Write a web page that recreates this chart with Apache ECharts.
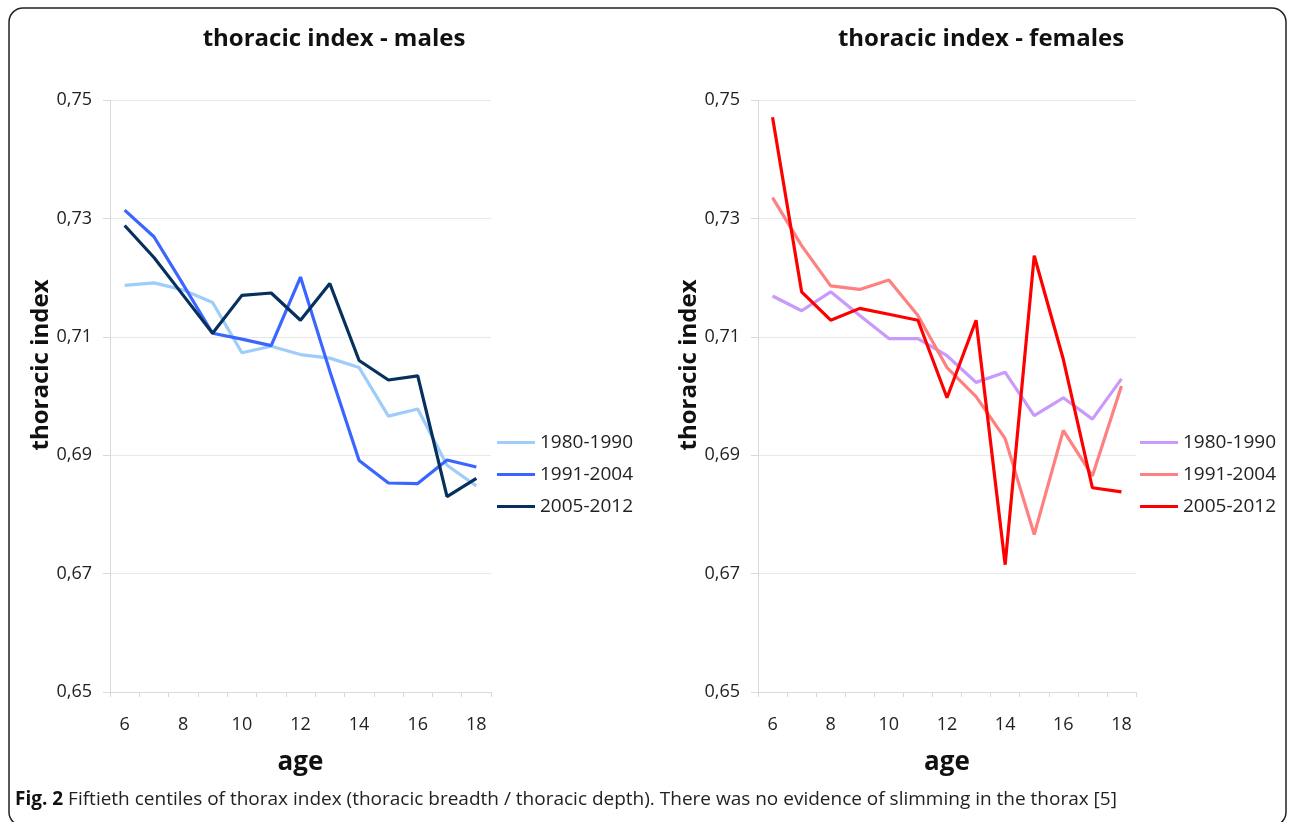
<!DOCTYPE html>
<html>
<head>
<meta charset="utf-8">
<script src="https://cdn.jsdelivr.net/npm/echarts@6/dist/echarts.min.js"></script>
<style>
  html, body { margin: 0; padding: 0; background: #fff; }
  #chart { width: 1292px; height: 822px; }
</style>
</head>
<body>
<div id="chart"></div>
<script>
// ages on the category axis
const edades = ['6','7','8','9','10','11','12','13','14','15','16','17','18'];
const periodos = ['1980-1990', '1991-2004', '2005-2012'];
const yTicks = [0.65, 0.67, 0.69, 0.71, 0.73, 0.75];

// 50th centiles, males
const hombres1980 = [0.7187, 0.7191, 0.7179, 0.7158, 0.7073, 0.7084, 0.7070, 0.7064, 0.7048, 0.6966, 0.6978, 0.6883, 0.6848];
const hombres1991 = [0.7314, 0.7269, 0.7188, 0.7106, 0.7096, 0.7085, 0.7201, 0.7042, 0.6891, 0.6853, 0.6852, 0.6892, 0.6880];
const hombres2005 = [0.7288, 0.7234, 0.7170, 0.7106, 0.7170, 0.7174, 0.7128, 0.7190, 0.7060, 0.7027, 0.7034, 0.6830, 0.6861];

// 50th centiles, females
const mujeres1980 = [0.7169, 0.7144, 0.7176, 0.7136, 0.7097, 0.7097, 0.7068, 0.7023, 0.7040, 0.6967, 0.6997, 0.6961, 0.7029];
const mujeres1991 = [0.7335, 0.7254, 0.7186, 0.7180, 0.7196, 0.7136, 0.7048, 0.6999, 0.6928, 0.6766, 0.6942, 0.6865, 0.7017];
const mujeres2005 = [0.7471, 0.7176, 0.7128, 0.7148, 0.7138, 0.7128, 0.6997, 0.7128, 0.6715, 0.7237, 0.7062, 0.6845, 0.6838];

const coloresH = ['#9dcdf8', '#3a66ff', '#06305e'];
const coloresM = ['#c999fb', '#ff8080', '#ff0000'];

const fuente = '"Open Sans", "Noto Sans", sans-serif';
const gris = '#d9d9d9';

function ejeX(idx) {
    return {
        type: 'category', gridIndex: idx, data: edades, boundaryGap: true,
        axisLine: { lineStyle: { color: gris } },
        axisTick: { show: true, interval: 0, length: 5, lineStyle: { color: gris } },
        axisLabel: { interval: 1, margin: 24, fontSize: 18, color: '#222', fontFamily: fuente },
        name: 'age', nameLocation: 'middle', nameGap: 58,
        nameTextStyle: { fontSize: 26, fontWeight: 'bold', color: '#111', fontFamily: fuente }
    };
}

function ejeY(idx) {
    return {
        type: 'value', gridIndex: idx, min: yTicks[0], max: yTicks[yTicks.length - 1], interval: 0.02,
        axisLine: { show: true, lineStyle: { color: gris } },
        axisTick: { show: true, length: 7, lineStyle: { color: gris } },
        splitLine: { lineStyle: { color: '#e8e8e8' } },
        axisLabel: {
            margin: 18, fontSize: 18, color: '#222', fontFamily: fuente,
            formatter: v => v.toFixed(2).replace('.', ',')
        }
    };
}

function serie(nombre, datos, color, idx) {
    return {
        type: 'line', name: nombre, data: datos, xAxisIndex: idx, yAxisIndex: idx,
        symbol: 'none', lineStyle: { width: 3.2, color: color }, itemStyle: { color: color },
        silent: true, animation: false
    };
}

function leyenda(left, nombres) {
    return {
        orient: 'vertical', left: left, top: 428, icon: 'rect', itemWidth: 38, itemHeight: 3,
        itemGap: 13, data: nombres, selectedMode: false,
        textStyle: { fontSize: 19, color: '#222', fontFamily: fuente }
    };
}

const chart = echarts.init(document.getElementById('chart'));

const option = {
    animation: false,
    title: [
        { text: 'thoracic index - males', left: 329, top: 22, textAlign: 'center',
          textStyle: { fontSize: 24, fontWeight: 'bold', color: '#111', fontFamily: fuente } },
        { text: 'thoracic index - females', left: 976, top: 22, textAlign: 'center',
          textStyle: { fontSize: 24, fontWeight: 'bold', color: '#111', fontFamily: fuente } }
    ],
    grid: [
        { left: 110, top: 100, width: 381, height: 592 },
        { left: 758, top: 100, width: 378, height: 592 }
    ],
    xAxis: [ejeX(0), ejeX(1)],
    yAxis: [ejeY(0), ejeY(1)],
    // second legend names carry a trailing space to stay distinct
    legend: [
        leyenda(492, periodos.map(p => ({ name: p }))),
        leyenda(1135, periodos.map(p => ({ name: p + ' ' })))
    ],
    series: [
        serie(periodos[0], hombres1980, coloresH[0], 0),
        serie(periodos[1], hombres1991, coloresH[1], 0),
        serie(periodos[2], hombres2005, coloresH[2], 0),
        serie(periodos[0] + ' ', mujeres1980, coloresM[0], 1),
        serie(periodos[1] + ' ', mujeres1991, coloresM[1], 1),
        serie(periodos[2] + ' ', mujeres2005, coloresM[2], 1)
    ],
    graphic: [
        { type: 'rect', shape: { x: 9, y: 8, width: 1277, height: 818, r: 14 },
          style: { fill: 'none', stroke: '#222', lineWidth: 1.5 }, silent: true, z: -1 },
        { type: 'text', x: 41, y: 365, rotation: Math.PI / 2,
          style: { text: 'thoracic index', font: 'bold 24px ' + fuente, fill: '#111',
                   textAlign: 'center', textVerticalAlign: 'middle' } },
        { type: 'text', x: 689, y: 365, rotation: Math.PI / 2,
          style: { text: 'thoracic index', font: 'bold 24px ' + fuente, fill: '#111',
                   textAlign: 'center', textVerticalAlign: 'middle' } },
        { type: 'text', x: 15, y: 800,
          style: {
              text: '{b|Fig. 2} Fiftieth centiles of thorax index (thoracic breadth / thoracic depth). There was no evidence of slimming in the thorax [5]',
              textVerticalAlign: 'middle',
              rich: {
                  b: { fontWeight: 'bold', fontSize: 19, fontFamily: fuente, fill: '#111' }
              },
              fontSize: 19, fontFamily: fuente, fill: '#222'
          } }
    ]
};

chart.setOption(option);
</script>
</body>
</html>
